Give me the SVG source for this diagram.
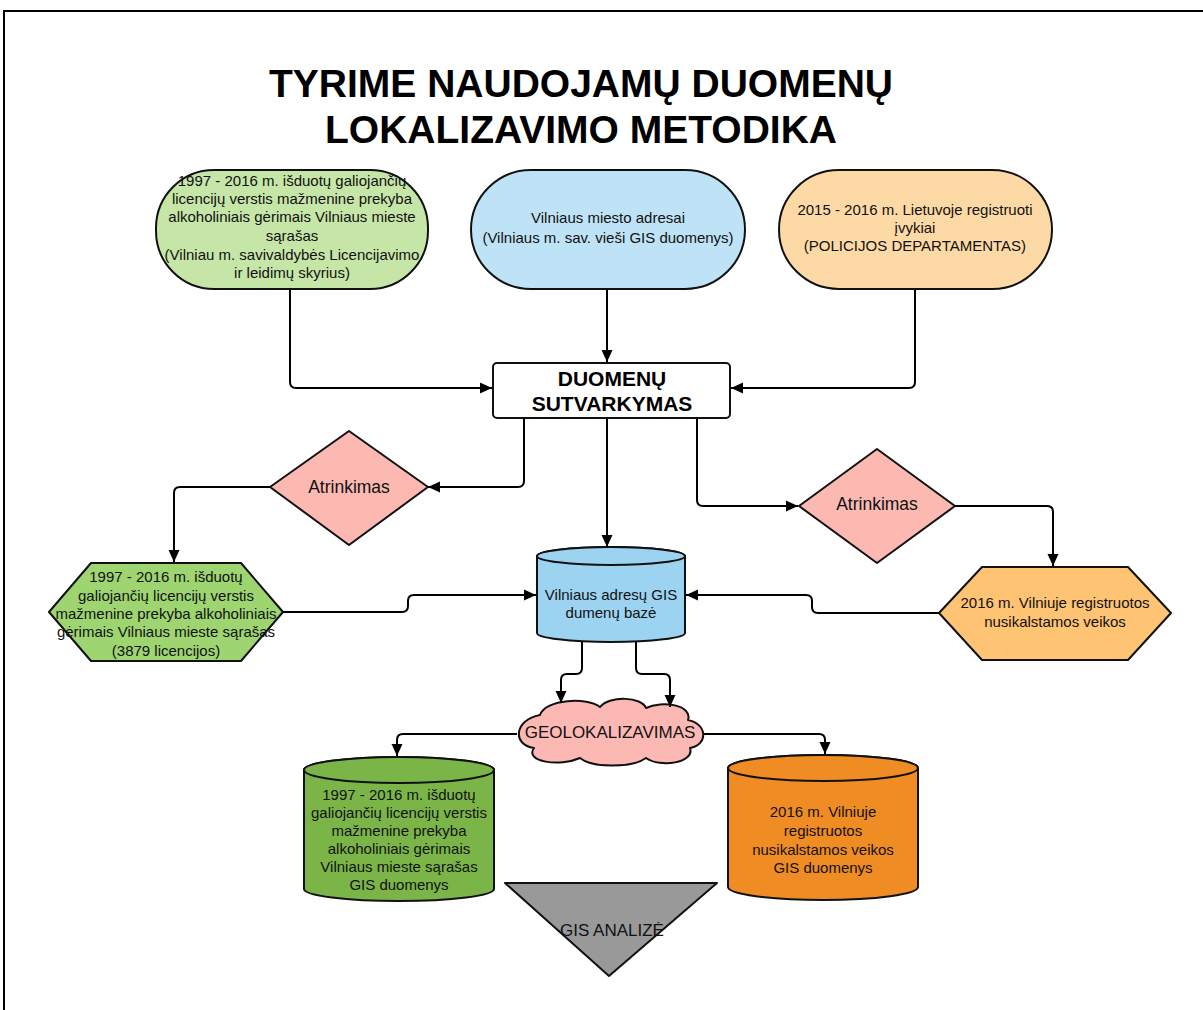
<svg xmlns="http://www.w3.org/2000/svg" width="1203" height="1010" viewBox="0 0 1203 1010">
<defs>
<marker id="arr" viewBox="0 0 12 12" refX="12" refY="6" markerWidth="12" markerHeight="12" markerUnits="userSpaceOnUse" orient="auto">
<path d="M0,0.5 L12,6 L0,11.5 z" fill="#000"/>
</marker>
<style>
.n{stroke:#111;stroke-width:2;stroke-linejoin:round}
.t{font-family:"Liberation Sans",Arial,sans-serif;font-size:15px;fill:#111;text-anchor:middle}
.l{font-size:17.5px}
.m{font-size:17px}
.c{fill:none;stroke:#000;stroke-width:2;marker-end:url(#arr)}
.b{font-family:"Liberation Sans",Arial,sans-serif;font-weight:bold;fill:#000;text-anchor:middle}
</style>
</defs>
<rect x="0" y="0" width="1203" height="1010" fill="#fff"/>
<rect x="4" y="11" width="1300" height="1100" fill="none" stroke="#000" stroke-width="2"/>
<g id="title">
<text class="b" x="581" y="97" font-size="39">TYRIME NAUDOJAMŲ DUOMENŲ</text>
<text class="b" x="581" y="143" font-size="39">LOKALIZAVIMO METODIKA</text>
</g>
<g id="src-licencijos">
<rect class="n" x="156" y="170" width="272" height="119" rx="58" fill="#c6e6a8"/>
<text class="t"><tspan x="292" y="186">1997 - 2016 m. išduotų galiojančių</tspan><tspan x="292" y="204">licencijų verstis mažmenine prekyba</tspan><tspan x="292" y="222">alkoholiniais gėrimais Vilniaus mieste</tspan><tspan x="292" y="241">sąrašas</tspan><tspan x="292" y="260">(Vilniau m. savivaldybės Licencijavimo</tspan><tspan x="292" y="278">ir leidimų skyrius)</tspan></text>
</g>
<g id="src-adresai">
<rect class="n" x="471" y="170" width="274" height="119" rx="60" fill="#bfe3f6"/>
<text class="t"><tspan x="608" y="223">Vilniaus miesto adresai</tspan><tspan x="608" y="243">(Vilniaus m. sav. vieši GIS duomenys)</tspan></text>
</g>
<g id="src-ivykiai">
<rect class="n" x="779" y="170" width="273" height="119" rx="60" fill="#fdd9a6"/>
<text class="t"><tspan x="915" y="215">2015 - 2016 m. Lietuvoje registruoti</tspan><tspan x="915" y="233">įvykiai</tspan><tspan x="915" y="251">(POLICIJOS DEPARTAMENTAS)</tspan></text>
</g>
<g id="sutvarkymas">
<rect class="n" x="493" y="363" width="237" height="55" rx="4" fill="#fff"/>
<text class="b" font-size="21"><tspan x="612" y="386">DUOMENŲ</tspan><tspan x="612" y="411">SUTVARKYMAS</tspan></text>
</g>
<g id="atrinkimas-kaire">
<polygon class="n" points="349,431 428,487 349,545 270,487" fill="#fbb9b2"/>
<text class="t l" x="349" y="493">Atrinkimas</text>
</g>
<g id="atrinkimas-desine">
<polygon class="n" points="877,449 955,506 877,563 799,506" fill="#fbb9b2"/>
<text class="t l" x="877" y="510">Atrinkimas</text>
</g>
<g id="licencijos-sarasas">
<polygon class="n" points="49,612 91,563 241,563 283,612 241,661 91,661" fill="#9ed571"/>
<text class="t"><tspan x="166" y="582">1997 - 2016 m. išduotų</tspan><tspan x="166" y="601">galiojančių licencijų verstis</tspan><tspan x="166" y="619">mažmenine prekyba alkoholiniais</tspan><tspan x="166" y="637">gėrimais Vilniaus mieste sąrašas</tspan><tspan x="166" y="656">(3879 licencijos)</tspan></text>
</g>
<g id="nusikalstamos-veikos">
<polygon class="n" points="939,613 982,567 1128,567 1171,613 1128,660 982,660" fill="#fec373"/>
<text class="t"><tspan x="1055" y="608">2016 m. Vilniuje registruotos</tspan><tspan x="1055" y="627">nusikalstamos veikos</tspan></text>
</g>
<g id="gis-baze">
<path class="n" d="M537,556 V633 A74,9 0 0 0 685,633 V556 A74,9 0 0 0 537,556 Z" fill="#9bd3f1"/>
<ellipse class="n" cx="611" cy="556" rx="74" ry="9" fill="#9bd3f1"/>
<text class="t"><tspan x="611" y="600">Vilniaus adresų GIS</tspan><tspan x="611" y="618">dumenų bazė</tspan></text>
</g>
<g id="geolokalizavimas">
<path class="n" d="M540,715 C545,699 588,697 600,707 C610,695 642,697 646,708 C662,700 693,705 688,720 C708,724 708,745 690,748 C695,763 660,768 646,758 C632,768 592,768 580,758 C560,767 524,762 534,748 C512,745 514,720 540,715 Z" fill="#fcb9b3"/>
<text class="t m" x="610" y="738">GEOLOKALIZAVIMAS</text>
</g>
<g id="licencijos-gis">
<path class="n" d="M304,770 V889 A95,12 0 0 0 494,889 V770 A95,13 0 0 0 304,770 Z" fill="#7bb548"/>
<ellipse class="n" cx="399" cy="770" rx="95" ry="13" fill="#7bb548"/>
<text class="t"><tspan x="399" y="800">1997 - 2016 m. išduotų</tspan><tspan x="399" y="818">galiojančių licencijų verstis</tspan><tspan x="399" y="836">mažmenine prekyba</tspan><tspan x="399" y="854">alkoholiniais gėrimais</tspan><tspan x="399" y="872">Vilniaus mieste sąrašas</tspan><tspan x="399" y="890">GIS duomenys</tspan></text>
</g>
<g id="veikos-gis">
<path class="n" d="M728,768 V887 A95,13 0 0 0 918,887 V768 A95,13 0 0 0 728,768 Z" fill="#ef8c23"/>
<ellipse class="n" cx="823" cy="768" rx="95" ry="13" fill="#ef8c23"/>
<text class="t"><tspan x="823" y="817">2016 m. Vilniuje</tspan><tspan x="823" y="836">registruotos</tspan><tspan x="823" y="855">nusikalstamos veikos</tspan><tspan x="823" y="873">GIS duomenys</tspan></text>
</g>
<g id="gis-analize">
<polygon class="n" points="505,883 717,883 609,976" fill="#999"/>
<text class="t m" x="612" y="936">GIS ANALIZĖ</text>
</g>
<g id="connectors">
<path class="c" d="M290,290 V382 Q290,388 296,388 H492"/>
<path class="c" d="M607,290 V362"/>
<path class="c" d="M915,290 V382 Q915,388 909,388 H731"/>
<path class="c" d="M524,418 V481 Q524,487 518,487 H428"/>
<path class="c" d="M270,487 H180 Q174,487 174,493 V562"/>
<path class="c" d="M607,418 V547"/>
<path class="c" d="M697,418 V500 Q697,506 703,506 H798"/>
<path class="c" d="M955,506 H1047 Q1053,506 1053,512 V566"/>
<path class="c" d="M283,612 H402 Q408,612 408,606 V601 Q408,595 414,595 H536"/>
<path class="c" d="M939,613 H818 Q812,613 812,607 V601 Q812,595 806,595 H686"/>
<path class="c" d="M582,642 V668 Q582,674 576,674 H567 Q561,674 561,680 V703"/>
<path class="c" d="M636,642 V668 Q636,674 642,674 H664 Q670,674 670,680 V707"/>
<path class="c" d="M517,734 H403 Q397,734 397,740 V756"/>
<path class="c" d="M704,734 H819 Q825,734 825,740 V754"/>
</g>
</svg>
